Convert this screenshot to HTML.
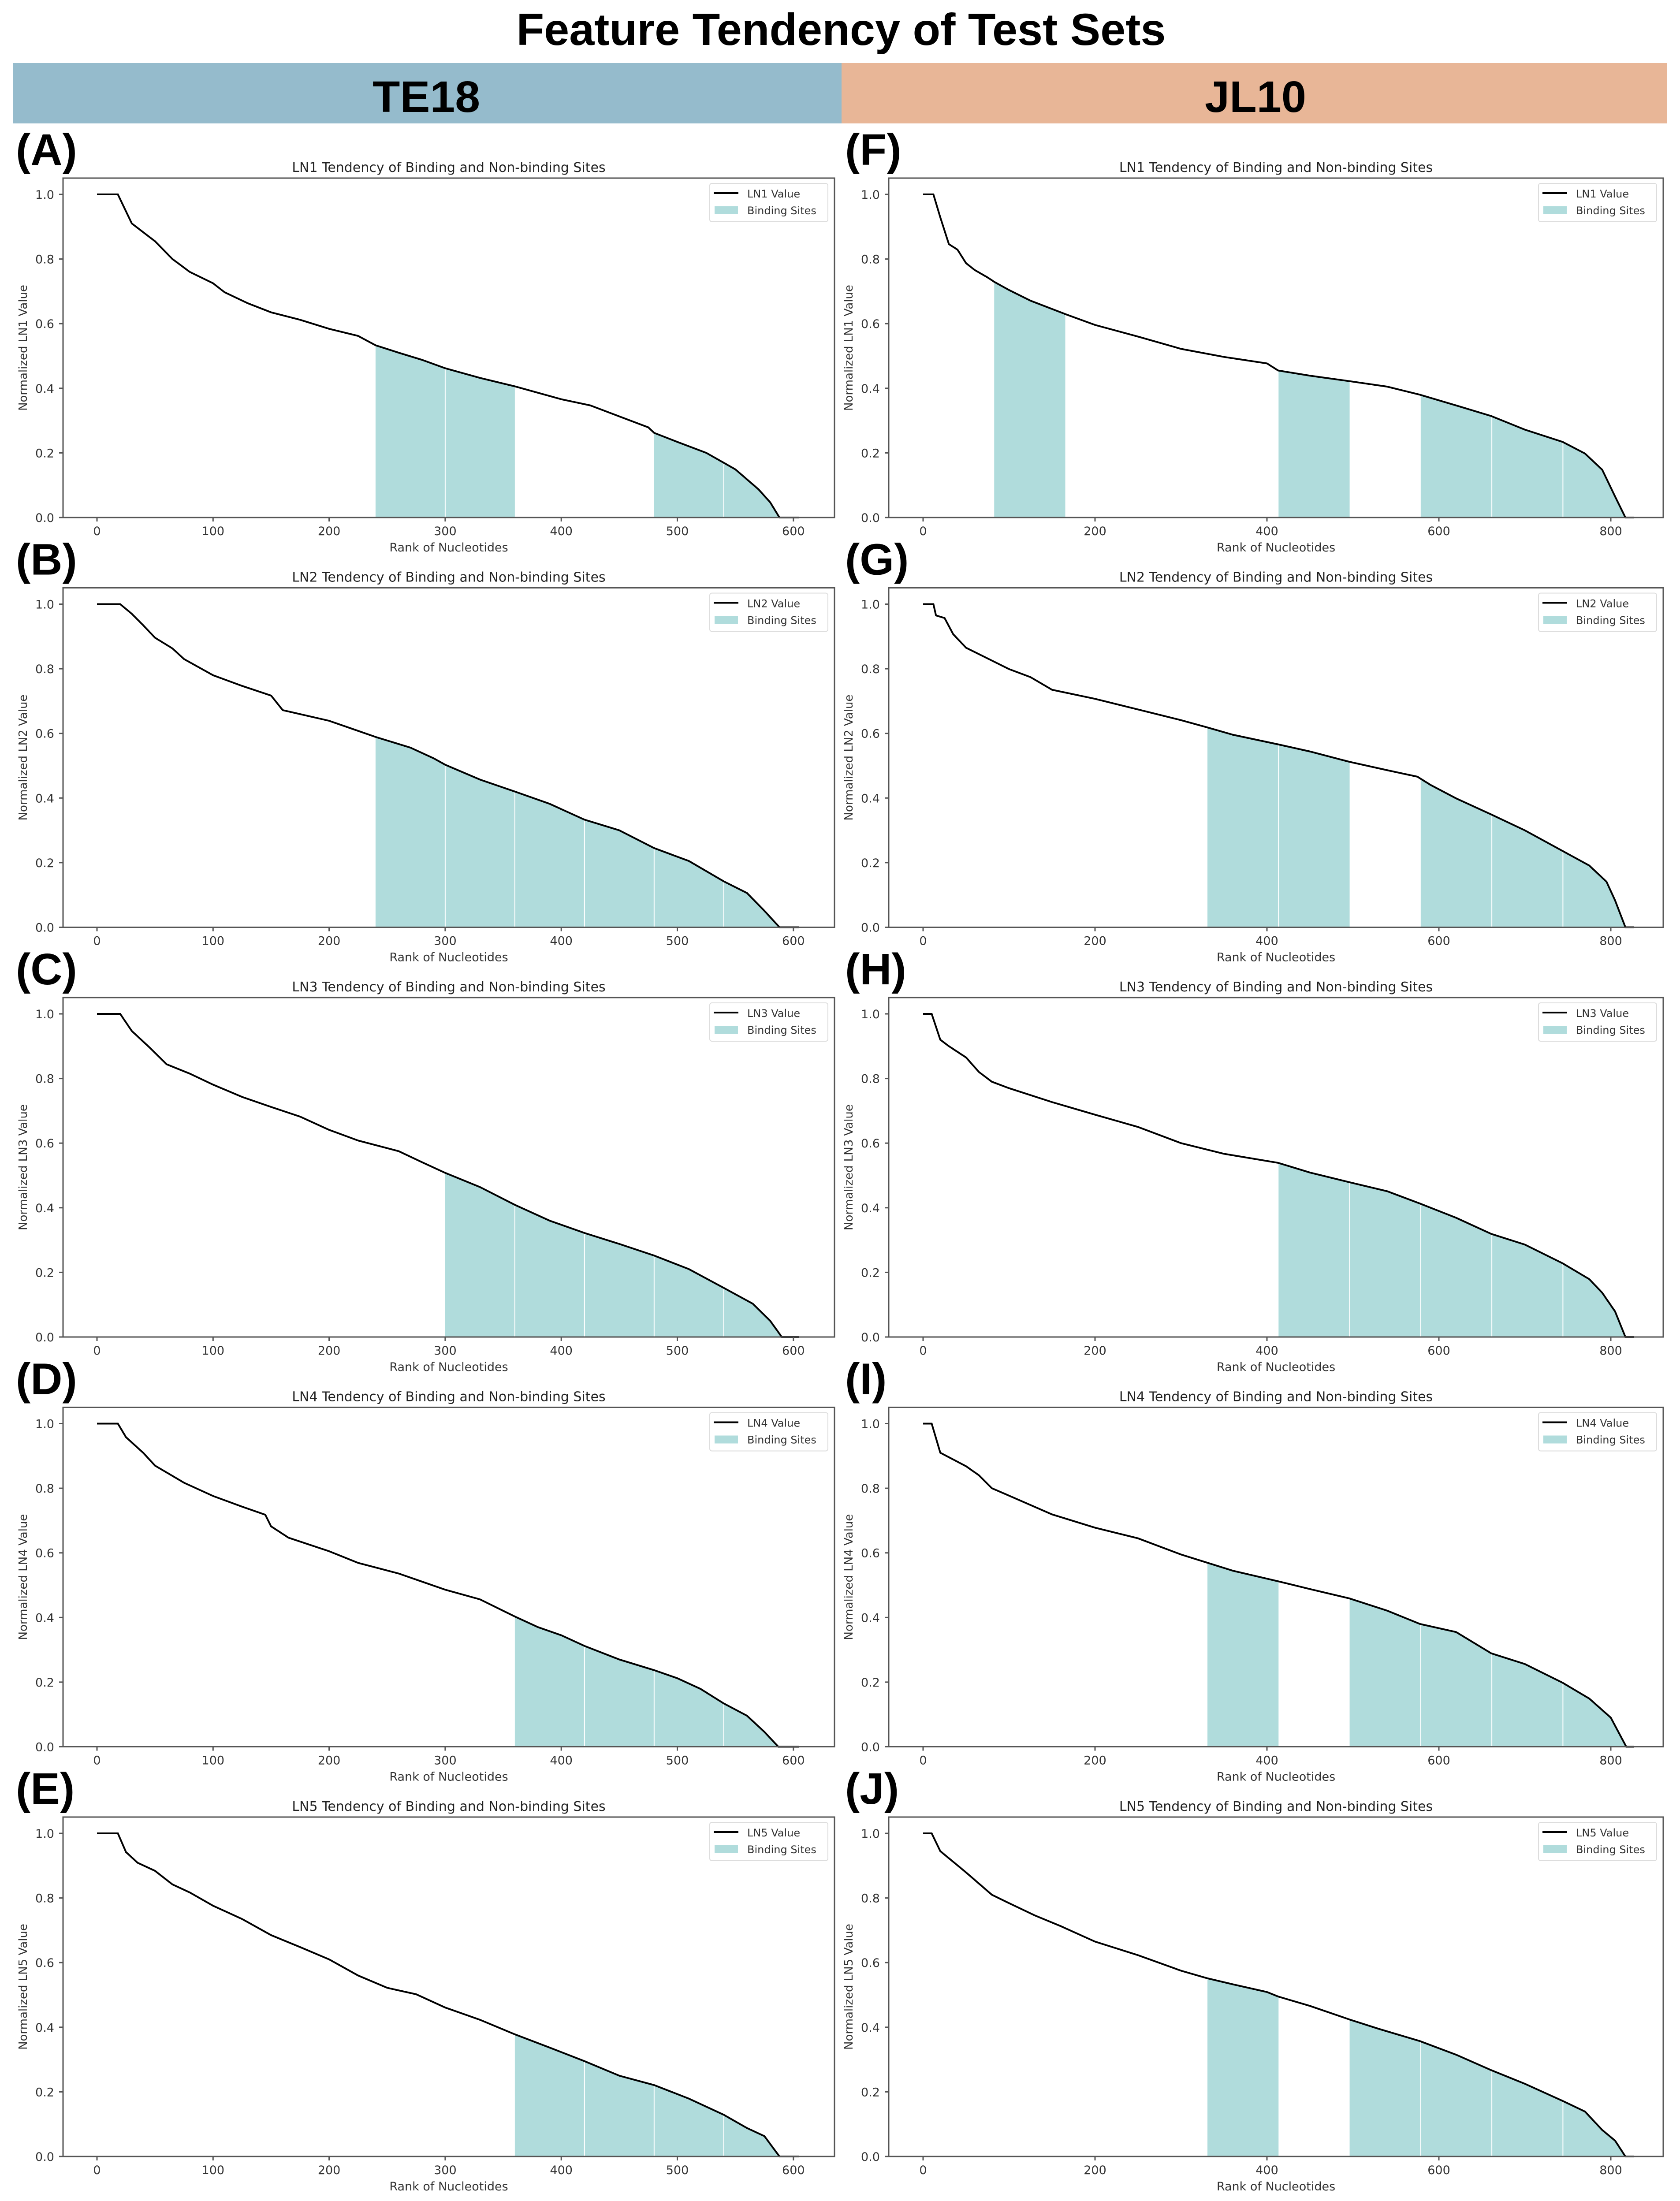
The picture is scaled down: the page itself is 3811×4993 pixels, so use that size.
<!DOCTYPE html>
<html><head><meta charset="utf-8">
<style>
html,body{margin:0;padding:0;background:#fff;}
svg{display:block;}
text{font-family:"DejaVu Sans","Liberation Sans",sans-serif;}
.bold{font-family:"Liberation Sans",sans-serif;font-weight:bold;}
</style></head>
<body>
<svg id="fig" width="3811" height="4993" viewBox="0 0 3811 4993" xmlns="http://www.w3.org/2000/svg">
<rect x="0" y="0" width="3811" height="4993" fill="#fff"/>
<text class="bold" x="1908" y="102" font-size="102" text-anchor="middle" textLength="1473" lengthAdjust="spacingAndGlyphs">Feature Tendency of Test Sets</text>
<rect x="29" y="143" width="1880" height="137" fill="#95bbcc"/>
<rect x="1909" y="143" width="1872" height="137" fill="#e8b697"/>
<text class="bold" x="967" y="254" font-size="100" text-anchor="middle" textLength="244" lengthAdjust="spacingAndGlyphs">TE18</text>
<text class="bold" x="2848" y="254" font-size="100" text-anchor="middle" textLength="230" lengthAdjust="spacingAndGlyphs">JL10</text>
<g id="panels"></g>
</svg>
<script>
// ---- Data (rank, normalized value) per panel ----
const rankA = [0,18,30,50,65,80,100,110,130,150,175,200,225,240,260,280,300,330,360,380,400,425,450,475,480,500,525,550,570,580,588,605];
const valA  = [1,1,0.91,0.855,0.80,0.76,0.725,0.697,0.663,0.635,0.612,0.584,0.562,0.533,0.51,0.488,0.462,0.432,0.406,0.386,0.366,0.347,0.313,0.279,0.262,0.234,0.2,0.149,0.087,0.047,0,0];
const rankB = [0,20,30,40,50,65,75,100,125,150,160,200,220,240,270,290,300,330,360,390,420,450,480,510,540,560,575,588,605];
const valB  = [1,1,0.97,0.934,0.896,0.863,0.83,0.78,0.747,0.717,0.672,0.639,0.614,0.589,0.556,0.523,0.503,0.457,0.42,0.382,0.333,0.3,0.245,0.205,0.142,0.106,0.051,0,0];
const rankC = [0,20,30,45,60,80,100,125,150,175,200,225,260,280,300,330,360,390,420,450,480,510,540,565,580,590,605];
const valC  = [1,1,0.947,0.897,0.844,0.815,0.781,0.743,0.712,0.682,0.641,0.608,0.575,0.541,0.508,0.464,0.409,0.36,0.322,0.288,0.252,0.21,0.152,0.103,0.05,0,0];
const rankD = [0,18,25,40,50,75,100,125,145,150,165,200,225,260,280,300,330,360,380,400,420,450,480,500,520,540,560,575,587,605];
const valD  = [1,1,0.958,0.909,0.87,0.817,0.776,0.743,0.718,0.682,0.647,0.605,0.569,0.536,0.511,0.486,0.456,0.403,0.37,0.345,0.312,0.27,0.237,0.212,0.179,0.134,0.096,0.046,0,0];
const rankE = [0,18,25,35,50,65,80,100,125,150,175,200,225,250,275,300,330,360,390,420,450,480,510,540,560,575,588,605];
const valE  = [1,1,0.942,0.909,0.884,0.842,0.817,0.776,0.735,0.685,0.648,0.61,0.56,0.522,0.502,0.461,0.423,0.378,0.337,0.295,0.25,0.221,0.179,0.129,0.088,0.063,0,0];
const rankF = [0,12,20,30,40,50,60,75,83,100,125,165,200,250,300,350,400,413,450,496,540,578,620,661,700,744,770,790,805,817,827];
const valF  = [1,1,0.929,0.846,0.829,0.787,0.766,0.743,0.729,0.704,0.671,0.63,0.596,0.56,0.522,0.497,0.477,0.455,0.439,0.422,0.405,0.38,0.347,0.314,0.272,0.234,0.198,0.148,0.065,0,0];
const rankG = [0,12,15,25,35,50,75,100,125,150,200,250,300,330,360,413,450,496,540,575,590,620,661,700,744,775,795,805,817,827];
const valG  = [1,1,0.965,0.957,0.907,0.865,0.832,0.799,0.774,0.735,0.707,0.674,0.641,0.619,0.596,0.566,0.544,0.512,0.486,0.466,0.441,0.399,0.349,0.3,0.236,0.191,0.141,0.083,0,0];
const rankH = [0,10,20,30,50,65,80,100,150,200,250,300,350,413,450,496,540,578,620,661,700,744,775,790,805,817,827];
const valH  = [1,1,0.92,0.9,0.865,0.82,0.79,0.77,0.727,0.688,0.65,0.6,0.567,0.539,0.509,0.479,0.451,0.413,0.369,0.319,0.286,0.228,0.179,0.137,0.079,0,0];
const rankI = [0,10,20,50,65,80,100,150,200,250,300,330,360,413,450,496,540,578,620,661,700,744,775,800,812,818,827];
const valI  = [1,1,0.91,0.868,0.84,0.80,0.777,0.719,0.678,0.645,0.595,0.57,0.545,0.512,0.488,0.459,0.421,0.38,0.355,0.289,0.256,0.198,0.149,0.09,0.03,0,0];
const rankJ = [0,10,20,50,80,100,130,160,200,250,300,330,360,400,413,450,496,530,578,620,661,700,744,770,790,805,817,827];
const valJ  = [1,1,0.945,0.879,0.81,0.784,0.746,0.713,0.665,0.623,0.575,0.552,0.533,0.509,0.495,0.466,0.424,0.395,0.357,0.315,0.267,0.225,0.172,0.139,0.082,0.049,0,0];
// binding-site bin indices (10 equal bins over 0..N)
const binsA = [4,5,8,9];
const binsB = [4,5,6,7,8,9];
const binsC = [5,6,7,8,9];
const binsD = [6,7,8,9];
const binsE = [6,7,8,9];
const binsF = [1,5,7,8,9];
const binsG = [4,5,7,8,9];
const binsH = [5,6,7,8,9];
const binsI = [4,6,7,8,9];
const binsJ = [4,6,7,8,9];
const featureNames = ["LN1","LN2","LN3","LN4","LN5"];
const panelLetters = ["A","B","C","D","E","F","G","H","I","J"];
const yTicks = [0,0.2,0.4,0.6,0.8,1.0];
const yTickLabels = ["0.0","0.2","0.4","0.6","0.8","1.0"];
const xTicksLeft = [0,100,200,300,400,500,600];
const xTicksRight = [0,200,400,600,800];
const binWidthLeft = 60;
const binWidthRight = 82.7;

const NS = "http://www.w3.org/2000/svg";
const root = document.getElementById("panels");
function mk(tag, attrs, parent){
  const e = document.createElementNS(NS, tag);
  for (const k in attrs) e.setAttribute(k, attrs[k]);
  (parent||root).appendChild(e);
  return e;
}
function interp(ranks, vals, x){
  for (let i=0;i<ranks.length-1;i++){
    if (x>=ranks[i] && x<=ranks[i+1]){
      const t = ranks[i+1]===ranks[i]?0:(x-ranks[i])/(ranks[i+1]-ranks[i]);
      return vals[i]+t*(vals[i+1]-vals[i]);
    }
  }
  return 0;
}
const series = [
  [rankA,valA,binsA],[rankB,valB,binsB],[rankC,valC,binsC],[rankD,valD,binsD],[rankE,valE,binsE],
  [rankF,valF,binsF],[rankG,valG,binsG],[rankH,valH,binsH],[rankI,valI,binsI],[rankJ,valJ,binsJ]
];

for (let p=0;p<10;p++){
  const col = p<5?0:1, row = p%5;
  const ranks = series[p][0], vals = series[p][1], bins = series[p][2];
  const y1 = 441 + 929.5*row, ySpan = 733, y0 = y1 + ySpan, top = y1 - 37;
  const x0 = col===0?220:2094, ppu = col===0?2.633:1.95;
  const left = col===0?143:2016, right = col===0?1893:3773;
  const xTicks = col===0?xTicksLeft:xTicksRight;
  const binW = col===0?binWidthLeft:binWidthRight;
  const X = v => x0 + v*ppu;
  const Y = v => y0 - v*ySpan;
  const g = mk("g", {});
  
  
  const fname = featureNames[row];

  const lab = mk("text", {x: col===0?36:1917, y: y1-67, "font-size":100, class:"bold"}, g);
  lab.textContent = "(" + panelLetters[p] + ")";
  
  

  const tt = mk("text", {x:(left+right)/2, y: top-14, "font-size":30, "text-anchor":"middle", fill:"#222"}, g);
  tt.textContent = fname + " Tendency of Binding and Non-binding Sites";
  
  

  // binding site fills
  for (const b of bins){
    const a = b*binW, e = Math.min((b+1)*binW, ranks[ranks.length-1]);
    let pts = [[X(a),Y(0)],[X(a),Y(interp(ranks,vals,a))]];
    for (let i=0;i<ranks.length;i++) if (ranks[i]>a && ranks[i]<e) pts.push([X(ranks[i]),Y(vals[i])]);
    pts.push([X(e),Y(interp(ranks,vals,e))],[X(e),Y(0)]);
    const poly = mk("polygon", {points: pts.map(q=>q.join(",")).join(" "), fill:"#b0dcdc"}, g);
    
    
    if (bins.indexOf(b-1)>=0){
      const sep = mk("line", {x1:X(a), x2:X(a), y1:Y(interp(ranks,vals,a)), y2:Y(0), stroke:"#fff", "stroke-width":2}, g);
      
      
    }
  }
  // line
  const lp = ranks.map((r,i)=>X(r)+","+Y(vals[i])).join(" ");
  const line = mk("polyline", {points:lp, fill:"none", stroke:"#000", "stroke-width":4, "stroke-linejoin":"miter"}, g);
  
  

  // spines
  const frame = mk("rect", {x:left, y:top, width:right-left, height:y0-top, fill:"none", stroke:"#555", "stroke-width":3}, g);
  
  

  // y ticks
  for (let i=0;i<yTicks.length;i++){
    const yy = Y(yTicks[i]);
    mk("line", {x1:left-9, x2:left, y1:yy, y2:yy, stroke:"#555", "stroke-width":3}, g);
    const t = mk("text", {x:left-20, y:yy+10, "font-size":27, "text-anchor":"end", fill:"#333"}, g);
    t.textContent = yTickLabels[i];
    
    
  }
  // x ticks
  for (const v of xTicks){
    const xx = X(v);
    mk("line", {x1:xx, x2:xx, y1:y0, y2:y0+9, stroke:"#555", "stroke-width":3}, g);
    const t = mk("text", {x:xx, y:y0+40, "font-size":27, "text-anchor":"middle", fill:"#333"}, g);
    t.textContent = String(v);
    
    
  }
  const xl = mk("text", {x:(left+right)/2, y:y0+77, "font-size":27, "text-anchor":"middle", fill:"#333"}, g);
  xl.textContent = "Rank of Nucleotides";
  
  
  const yc = (top+y0)/2, yx = left-82;
  const yl = mk("text", {x:yx, y:yc, "font-size":26, "text-anchor":"middle", fill:"#333", transform:"rotate(-90 "+yx+" "+yc+")"}, g);
  yl.textContent = "Normalized " + fname + " Value";
  
  

  // legend
  const lg = mk("g", {}, g);
  
  
  const lr = right - 15, ll = lr - 268;
  mk("rect", {x:ll, y:top+12, width:268, height:87, rx:5, fill:"#fff", stroke:"#ddd", "stroke-width":2}, lg);
  mk("line", {x1:ll+9, x2:ll+65, y1:top+34, y2:top+34, stroke:"#000", "stroke-width":4}, lg);
  const l1 = mk("text", {x:ll+85, y:top+44, "font-size":24, fill:"#333"}, lg);
  l1.textContent = fname + " Value";
  
  
  mk("rect", {x:ll+11, y:top+64, width:53, height:18, fill:"#b0dcdc"}, lg);
  const l2 = mk("text", {x:ll+85, y:top+82, "font-size":24, fill:"#333"}, lg);
  l2.textContent = "Binding Sites";
  
  
}
</script>
</body></html>
